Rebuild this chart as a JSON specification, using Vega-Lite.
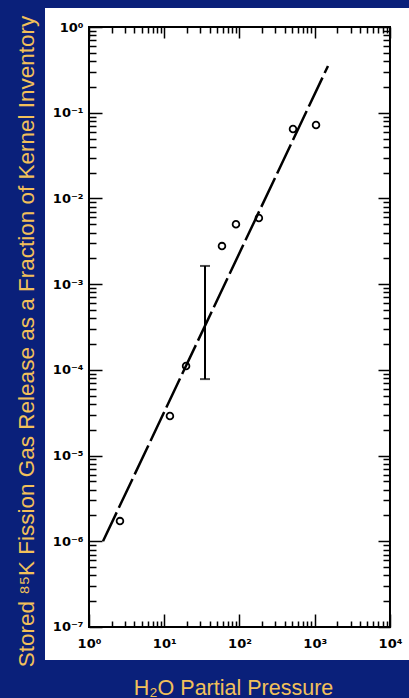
{
  "$schema": "https://vega.github.io/schema/vega-lite/v6.json",
  "width": 364,
  "height": 652,
  "autosize": {"type": "none"},
  "padding": {"left": 45, "top": 8, "right": 0, "bottom": 38},
  "background": "#0a207a",
  "config": {
    "view": {"fill": "white", "stroke": null},
    "axis": {
      "domain": false,
      "grid": false,
      "tickColor": "black",
      "tickWidth": 1.5,
      "labelColor": "black",
      "labelFont": "DejaVu Sans",
      "labelFontSize": 13,
      "labelFontWeight": "bold",
      "labelOverlap": false,
      "labelFlush": false,
      "labelBound": false,
      "titleFont": "Liberation Sans",
      "titleFontSize": 21.5,
      "titleFontWeight": "normal",
      "titleColor": "#f2c05a"
    }
  },
  "datasets": {
    "frame": [{"x": 1, "x2": 10000, "y": 1e-7, "y2": 1}],
    "points": [
      {"p": 2.58, "f": 1.72e-6},
      {"p": 11.9, "f": 2.89e-5},
      {"p": 19.5, "f": 1.11e-4},
      {"p": 58.5, "f": 2.78e-3},
      {"p": 89.8, "f": 5.0e-3},
      {"p": 181, "f": 5.9e-3},
      {"p": 514, "f": 0.0645},
      {"p": 1040, "f": 0.0718}
    ],
    "fit": [
      {"p": 1.535, "f": 1.0e-6},
      {"p": 1500, "f": 0.351}
    ],
    "err": [{"p": 34.8, "lo": 7.8e-5, "hi": 1.63e-3}]
  },
  "layer": [
    {
      "data": {"name": "frame"},
      "mark": {"type": "rect", "fill": null, "fillOpacity": 0, "stroke": "black", "strokeWidth": 2},
      "encoding": {
        "x": {
          "field": "x", "type": "quantitative",
          "scale": {"type": "log", "domain": [0.2602, 17890], "nice": false, "zero": false},
          "axis": {
            "orient": "bottom",
            "offset": -33,
            "values": [1,2,3,4,5,6,7,8,9,10,20,30,40,50,60,70,80,90,100,200,300,400,500,600,700,800,900,1000,2000,3000,4000,5000,6000,7000,8000,9000,10000],
            "tickSize": {"condition": {"test": "abs(log(datum.value)/LN10 - round(log(datum.value)/LN10)) < 0.001", "value": -13}, "value": -6},
            "labelPadding": 23,
            "labelExpr": "abs(log(datum.value)/LN10 - round(log(datum.value)/LN10)) < 0.001 ? '10' + (datum.value < 0.5 ? '⁻' : '') + ['⁰','¹','²','³','⁴','⁵','⁶','⁷'][abs(round(log(datum.value)/LN10))] : ''",
            "title": "H₂O Partial Pressure",
            "titleX": 188,
            "titleY": 67,
            "titleAlign": "center",
            "titleBaseline": "alphabetic"
          }
        },
        "x2": {"field": "x2"},
        "y": {
          "field": "y", "type": "quantitative",
          "scale": {"type": "log", "domain": [4.12e-8, 1.666], "nice": false, "zero": false},
          "axis": {
            "orient": "left",
            "offset": -44,
            "values": [1e-7,2e-7,3e-7,4e-7,5e-7,6e-7,7e-7,8e-7,9e-7,1e-6,2e-6,3e-6,4e-6,5e-6,6e-6,7e-6,8e-6,9e-6,1e-5,2e-5,3e-5,4e-5,5e-5,6e-5,7e-5,8e-5,9e-5,1e-4,2e-4,3e-4,4e-4,5e-4,6e-4,7e-4,8e-4,9e-4,0.001,0.002,0.003,0.004,0.005,0.006,0.007,0.008,0.009,0.01,0.02,0.03,0.04,0.05,0.06,0.07,0.08,0.09,0.1,0.2,0.3,0.4,0.5,0.6,0.7,0.8,0.9,1],
            "tickSize": {"condition": {"test": "abs(log(datum.value)/LN10 - round(log(datum.value)/LN10)) < 0.001", "value": -13}, "value": -7},
            "labelPadding": 19,
            "labelExpr": "abs(log(datum.value)/LN10 - round(log(datum.value)/LN10)) < 0.001 ? '10' + (datum.value < 0.5 ? '⁻' : '') + ['⁰','¹','²','³','⁴','⁵','⁶','⁷'][abs(round(log(datum.value)/LN10))] : ''",
            "title": "Stored ⁸⁵K Fission Gas Release as a Fraction of Kernel Inventory",
            "titleFontSize": 22.5,
            "titleX": -63,
            "titleY": 333,
            "titleAngle": -90,
            "titleAlign": "center",
            "titleBaseline": "middle"
          }
        },
        "y2": {"field": "y2"}
      }
    },
    {
      "data": {"name": "fit"},
      "mark": {"type": "line", "color": "black", "strokeWidth": 2.5, "strokeDash": [32, 5]},
      "encoding": {
        "x": {"field": "p", "type": "quantitative", "axis": null},
        "y": {"field": "f", "type": "quantitative", "axis": null}
      }
    },
    {
      "data": {"name": "err"},
      "mark": {"type": "rule", "color": "black", "strokeWidth": 2},
      "encoding": {
        "x": {"field": "p", "type": "quantitative", "axis": null},
        "y": {"field": "lo", "type": "quantitative", "axis": null},
        "y2": {"field": "hi"}
      }
    },
    {
      "data": {"name": "err"},
      "mark": {"type": "tick", "color": "black", "orient": "horizontal", "size": 10, "thickness": 2},
      "encoding": {
        "x": {"field": "p", "type": "quantitative", "axis": null},
        "y": {"field": "lo", "type": "quantitative", "axis": null}
      }
    },
    {
      "data": {"name": "err"},
      "mark": {"type": "tick", "color": "black", "orient": "horizontal", "size": 10, "thickness": 2},
      "encoding": {
        "x": {"field": "p", "type": "quantitative", "axis": null},
        "y": {"field": "hi", "type": "quantitative", "axis": null}
      }
    },
    {
      "data": {"name": "points"},
      "mark": {"type": "point", "shape": "circle", "filled": false, "color": "black", "size": 45, "strokeWidth": 1.8, "opacity": 1},
      "encoding": {
        "x": {"field": "p", "type": "quantitative", "axis": null},
        "y": {"field": "f", "type": "quantitative", "axis": null}
      }
    },
    {
      "data": {"name": "frame"},
      "mark": {"type": "rect", "opacity": 0},
      "encoding": {
        "x": {
          "field": "x", "type": "quantitative",
          "axis": {
            "orient": "top",
            "offset": -19,
            "values": [1,2,3,4,5,6,7,8,9,10,20,30,40,50,60,70,80,90,100,200,300,400,500,600,700,800,900,1000,2000,3000,4000,5000,6000,7000,8000,9000,10000],
            "tickSize": {"condition": {"test": "abs(log(datum.value)/LN10 - round(log(datum.value)/LN10)) < 0.001", "value": -11}, "value": -6},
            "labels": false,
            "title": null
          }
        },
        "x2": {"field": "x2"},
        "y": {
          "field": "y", "type": "quantitative",
          "axis": {
            "orient": "right",
            "offset": -19,
            "values": [1e-7,2e-7,3e-7,4e-7,5e-7,6e-7,7e-7,8e-7,9e-7,1e-6,2e-6,3e-6,4e-6,5e-6,6e-6,7e-6,8e-6,9e-6,1e-5,2e-5,3e-5,4e-5,5e-5,6e-5,7e-5,8e-5,9e-5,1e-4,2e-4,3e-4,4e-4,5e-4,6e-4,7e-4,8e-4,9e-4,0.001,0.002,0.003,0.004,0.005,0.006,0.007,0.008,0.009,0.01,0.02,0.03,0.04,0.05,0.06,0.07,0.08,0.09,0.1,0.2,0.3,0.4,0.5,0.6,0.7,0.8,0.9,1],
            "tickSize": {"condition": {"test": "abs(log(datum.value)/LN10 - round(log(datum.value)/LN10)) < 0.001", "value": -12}, "value": -7},
            "labels": false,
            "title": null
          }
        },
        "y2": {"field": "y2"}
      }
    }
  ],
  "resolve": {"axis": {"x": "independent", "y": "independent"}}
}
